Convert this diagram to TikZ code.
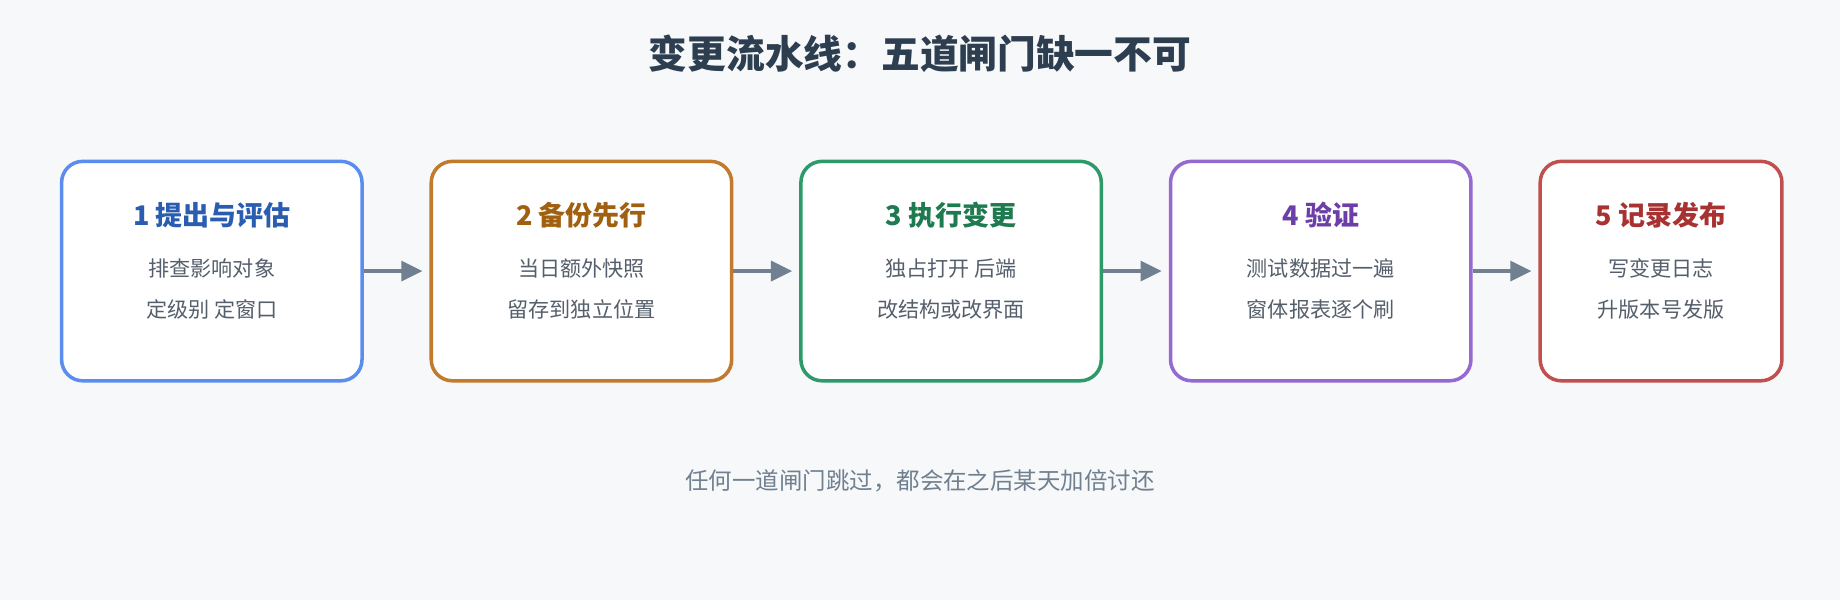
\documentclass[tikz,border=0pt]{standalone}
\usepackage{fontspec}
\setmainfont{Noto Sans CJK SC}
\usetikzlibrary{arrows.meta,calc}
\definecolor{bg}{HTML}{F7F8FA}
\definecolor{ttl}{HTML}{2C3E50}
\definecolor{txt}{HTML}{555F6B}
\definecolor{arr}{HTML}{708090}
\definecolor{b1}{HTML}{5B8DEF}\definecolor{t1}{HTML}{2A5DB0}
\definecolor{b2}{HTML}{C27A2C}\definecolor{t2}{HTML}{A0600F}
\definecolor{b3}{HTML}{2E9A6A}\definecolor{t3}{HTML}{1E7A4F}
\definecolor{b4}{HTML}{9569CF}\definecolor{t4}{HTML}{6C3FA8}
\definecolor{b5}{HTML}{C0504D}\definecolor{t5}{HTML}{A83232}
\tikzset{
 box/.style={draw=#1,line width=3pt,fill=white,rounded corners=18pt,minimum height=187pt,inner sep=0pt},
 head/.style={font=\fontsize{23}{27}\selectfont\bfseries,text=#1},
 body/.style={font=\fontsize{18}{21}\selectfont,text=txt},
 conn/.style={draw=arr,line width=3pt,shorten >=6pt,-{Triangle[length=18pt,width=17pt]}}
}
\begin{document}
\begin{tikzpicture}[x=1pt,y=-1pt]
\fill[bg] (0,0) rectangle (1568,511);
\useasboundingbox (0,0) rectangle (1568,511);
\node[font=\fontsize{33}{38}\selectfont\bfseries,text=ttl] (title) at (784,46) {变更流水线：五道闸门缺一不可};
\foreach \i/\l/\w/\c/\h/\a/\b in {1/51/256/1/1 提出与评估/排查影响对象/定级别 定窗口,
 2/366/256/2/2 备份先行/当日额外快照/留存到独立位置,
 3/681/256/3/3 执行变更/独占打开 后端/改结构或改界面,
 4/996/256/4/4 验证/测试数据过一遍/窗体报表逐个刷,
 5/1311/206/5/5 记录发布/写变更日志/升版本号发版}{
 \node[box=b\c,minimum width=\w pt,anchor=north west] (n\i) at (\l,136) {};
 \node[head=t\c] (h\i) at ($(n\i.north)+(0,47)$) {\h};
 \node[body] (p\i) at ($(n\i.north)+(0,93)$) {\a};
 \node[body] (q\i) at ($(n\i.north)+(0,128)$) {\b};
}
\foreach \i/\j in {1/2,2/3,3/4,4/5} \draw[conn] (n\i.east) -- (n\j.west);
\node[font=\fontsize{20}{24}\selectfont,text=arr] (foot) at (784,410) {任何一道闸门跳过，都会在之后某天加倍讨还};
\end{tikzpicture}
\end{document}
